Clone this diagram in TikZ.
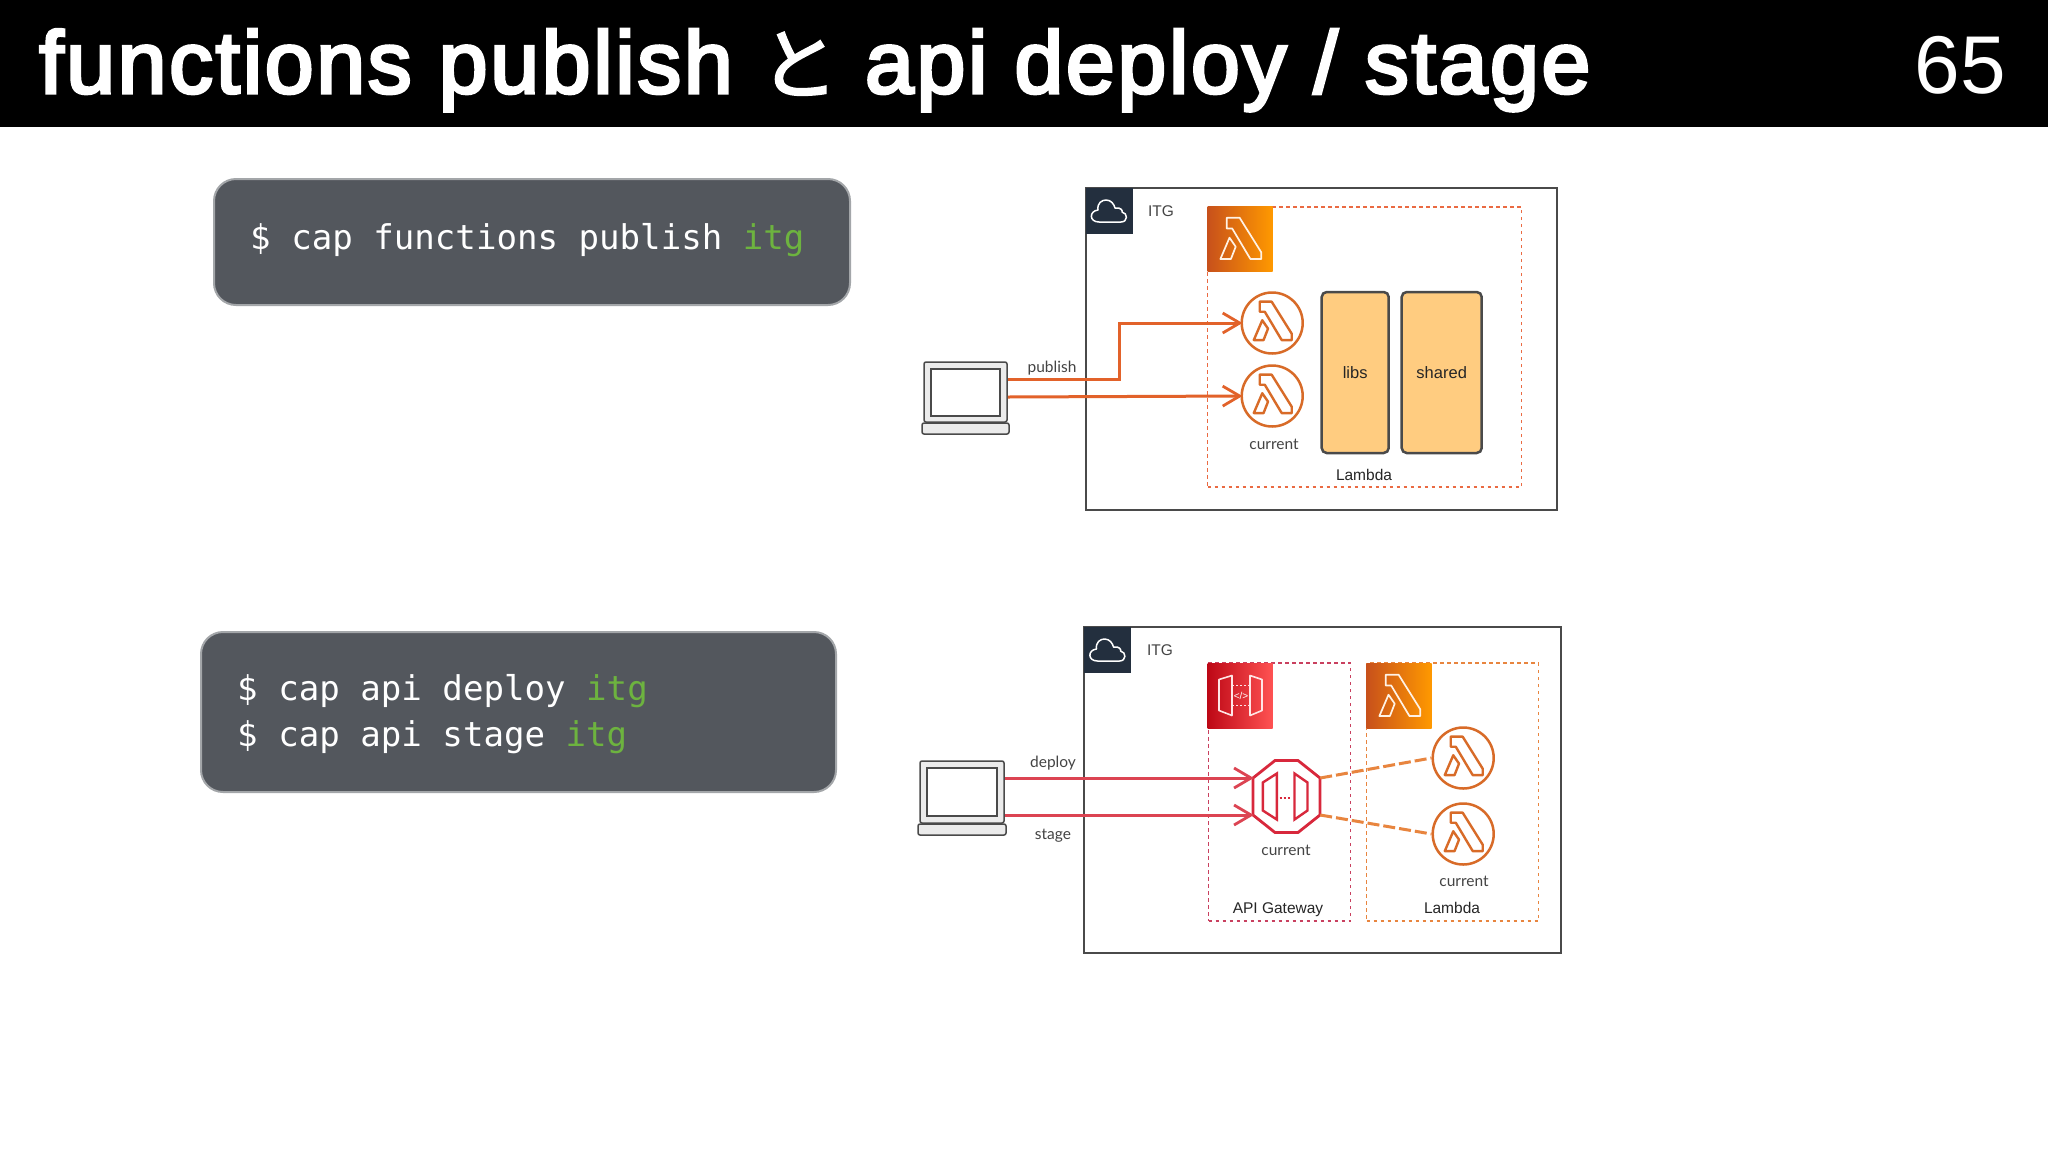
\documentclass[tikz,border=0pt]{standalone}
\usepackage{fontspec}
\usetikzlibrary{arrows.meta,calc}
\setmainfont{Liberation Sans}
\newfontfamily\titlef[FakeBold=3.5,LetterSpace=2.9]{Liberation Sans}
\newfontfamily\titlej[FakeBold=2.5]{Noto Sans CJK JP}
\newfontfamily\pagef{Liberation Sans}
\newfontfamily\monof{DejaVu Sans Mono}
\newfontfamily\smallf{Lato}
\definecolor{cmdbg}{HTML}{53575D}
\definecolor{cmdedge}{HTML}{A3A6A9}
\definecolor{cmdgreen}{HTML}{6DB33F}
\definecolor{navy}{HTML}{232F3E}
\definecolor{framec}{HTML}{4A4A4A}
\definecolor{labelc}{HTML}{444444}
\definecolor{lamL}{HTML}{C8511B}
\definecolor{lamR}{HTML}{FF9900}
\definecolor{apiL}{HTML}{BD0816}
\definecolor{apiR}{HTML}{FF5252}
\definecolor{fnc}{HTML}{D86B28}
\definecolor{arrO}{HTML}{E2622A}
\definecolor{arrR}{HTML}{DC4452}
\definecolor{dashO}{HTML}{EA6A42}
\definecolor{dashM}{HTML}{C9405F}
\definecolor{dashL}{HTML}{E8853F}
\definecolor{octc}{HTML}{D8283C}
\definecolor{libfill}{HTML}{FFCC80}
\tikzset{
  cmdbox/.style={draw=cmdedge,line width=2pt,fill=cmdbg,rounded corners=22pt,inner sep=0pt},
  cmdtext/.style={anchor=base west,inner sep=0pt,text=white,font=\monof\fontsize{34.1}{40}\selectfont},
  frame/.style={draw=framec,line width=1.6pt,fill=white,inner sep=0pt},
  navysq/.style={fill=navy,inner sep=0pt,minimum width=47pt,minimum height=46pt},
  zone/.style={line width=1.5pt,dash pattern=on 3.5pt off 3.5pt,inner sep=0pt},
  tile/.style={inner sep=0pt,minimum width=65pt,minimum height=65pt},
  fn/.style={circle,draw=fnc,line width=2.5pt,inner sep=0pt,minimum size=61pt},
  lib/.style={draw=framec,line width=2.5pt,fill=libfill,rounded corners=5pt,inner sep=0pt},
  lab/.style={inner sep=0pt,text=labelc,font=\smallf\fontsize{15.5}{18}\selectfont},
  capt/.style={inner sep=0pt,text=black!85,font=\fontsize{15.5}{18}\selectfont},
  lapo/.style={draw=framec,line width=1.5pt,fill=black!8,rounded corners=2pt,inner sep=0pt},
  lapi/.style={draw=framec,line width=1.5pt,fill=white,inner sep=0pt},
  conn/.style={line width=3pt,-{Straight Barb[length=17pt,width=20pt,line width=2.8pt]}},
  lam/.pic={
    \draw[pic actions,line join=round] (-13.4,-20.8)--(-.6,-20.8)--(21,13.7)--(21,20.5)--(10.2,20.5)--(-8,-10)--(-13.4,-10)--cycle;
    \draw[pic actions,line join=round] (-10.7,-.8)--(-19.8,20.5)--(-9.3,20.5)--(-4.5,8.2)--cycle;
  },
  cloudic/.pic={
    \draw[white,line width=1.5pt,line join=round] (-10,11) .. controls (-20,11) and (-20,0) .. (-11,-1)
      .. controls (-12,-8) and (-7,-11) .. (-3,-11) .. controls (2,-11) and (5,-7) .. (6,-3)
      .. controls (12,-4) and (14,0) .. (13,1) .. controls (19,2) and (19,11) .. (12,11) -- cycle;
  }
}
\begin{document}
\begin{tikzpicture}[x=1pt,y=-1pt]
\useasboundingbox (0,0) rectangle (2048,1152);
\fill[white] (0,0) rectangle (2048,1152);
% header
\node[fill=black,inner sep=0pt,minimum width=2048pt,minimum height=127pt,anchor=north west] (bar) at (0,0) {};
\node[anchor=base west,inner sep=0pt,text=white,font=\titlef\fontsize{88}{100}\selectfont] (title) at (39,93) {functions publish {\titlej\fontsize{78}{100}\selectfont と} api deploy / stage};
\node[anchor=base east,inner sep=0pt,text=white,font=\pagef\fontsize{82}{90}\selectfont] (page) at (2006,93) {65};
% command boxes
\node[cmdbox,minimum width=636pt,minimum height=126pt] (cmd1) at (532,242) {};
\node[cmdtext] (cmd1t) at (250,249) {\$ cap functions publish \textcolor{cmdgreen}{itg}};
\node[cmdbox,minimum width=635pt,minimum height=160pt] (cmd2) at (518.5,712) {};
\node[cmdtext] (cmd2a) at (237,700) {\$ cap api deploy \textcolor{cmdgreen}{itg}};
\node[cmdtext] (cmd2b) at (237,746) {\$ cap api stage \textcolor{cmdgreen}{itg}};

% === diagram 1 ===
\node[frame,minimum width=471pt,minimum height=322pt] (frame1) at (1321.5,349) {};
\node[navysq] (sq1) at (1109,211) {};
\pic at (sq1) {cloudic};
\node[lab,font=\fontsize{15.5}{18}\selectfont] (itg1) at (1161,211) {ITG};
\node[zone,draw=dashO,minimum width=314pt,minimum height=280pt] (zone1) at (1364.7,347) {};
\node[tile,left color=lamL,right color=lamR] (tile1) at (1240.2,238.5) {};
\pic[draw=white!90!orange,line width=1.7pt] at (tile1) {lam};
\node[fn] (fa) at (1272.2,323) {};
\pic[draw=fnc,line width=2.4pt,scale=.93] at ($(fa)+(0,-2)$) {lam};
\node[fn] (fb) at (1272.2,396) {};
\pic[draw=fnc,line width=2.4pt,scale=.93] at ($(fb)+(0,-2)$) {lam};
\node[lib,minimum width=67pt,minimum height=161pt] (libs) at (1355.2,372.5) {};
\node[lib,minimum width=80pt,minimum height=161pt] (shared) at (1441.7,372.5) {};
\node[capt,font=\fontsize{16.5}{18}\selectfont] (libst) at (libs) {libs};
\node[capt,font=\fontsize{16.5}{18}\selectfont] (sharedt) at (shared) {shared};
\node[lab] (cur1) at (1274,444) {current};
\node[capt] (lam1) at (1364,475) {Lambda};
% laptop 1
\node[lapo,minimum width=83pt,minimum height=60pt] (lap1) at (965.5,392) {};
\node[lapi,minimum width=69pt,minimum height=47pt] (lap1s) at (965.5,392.5) {};
\node[lapo,minimum width=87pt,minimum height=11pt] (lap1b) at (965.5,428.5) {};
\node[lab] (pub) at (1052,368) {publish};
\draw[conn,arrO] ($(lap1.east)+(0,-13)$) -| (1119,323) -- ($(fa.west)+(2,0)$);
\draw[conn,arrO] ($(lap1.east)+(0,5)$) -- ($(fb.west)+(2,0)$);

% === diagram 2 ===
\node[frame,minimum width=477pt,minimum height=326pt] (frame2) at (1322.5,790) {};
\node[navysq] (sq2) at (1107.5,650) {};
\pic at (sq2) {cloudic};
\node[lab,font=\fontsize{15.5}{18}\selectfont] (itg2) at (1160,650) {ITG};
\node[zone,draw=dashM,minimum width=142pt,minimum height=258pt] (zone2) at (1279.7,792) {};
\node[zone,draw=dashL,minimum width=172pt,minimum height=258pt] (zone3) at (1452.7,792) {};
\node[tile,left color=apiL,right color=apiR] (tile2) at (1240,695.5) {};
\begin{scope}[shift={(tile2)}]
  \draw[white!90!red,line width=1.6pt,line join=round] (-8,-20)--(-21,-16)--(-21,15)--(-8,20)--cycle;
  \draw[white!90!red,line width=1.6pt,line join=round] (10,-20)--(22,-16)--(22,15)--(10,20)--cycle;
  \draw[white!90!red,line width=1.4pt,dash pattern=on 2pt off 2pt] (-8,-10)--(10,-10) (-8,10)--(10,10);
\end{scope}
\node[inner sep=0pt,text=white,font=\fontsize{10}{10}\selectfont] (code) at ($(tile2)+(1,0)$) {</>};
\node[tile,left color=lamL,right color=lamR] (tile3) at (1399.2,695.5) {};
\pic[draw=white!90!orange,line width=1.7pt] at (tile3) {lam};
\node[fn] (fc) at (1463.2,758) {};
\pic[draw=fnc,line width=2.4pt,scale=.93] at ($(fc)+(0,-2)$) {lam};
\node[fn] (fd) at (1463.2,834) {};
\pic[draw=fnc,line width=2.4pt,scale=.93] at ($(fd)+(0,-2)$) {lam};
% octagon gateway
\node[inner sep=0pt,minimum width=67pt,minimum height=72pt] (oct) at (1286.5,796.5) {};
\begin{scope}[shift={(oct)}]
  \draw[octc,line width=2.8pt,line join=miter,fill=white] (-11.5,-36)--(11.5,-36)--(33.5,-18.5)--(33.5,18.5)--(11.5,36)--(-11.5,36)--(-33.5,18.5)--(-33.5,-18.5)--cycle;
  \draw[octc,line width=2.4pt] (-9.7,-23)--(-23.7,-14)--(-23.7,14)--(-9.7,23)--cycle;
  \draw[octc,line width=2.4pt] (8,-23)--(21,-14)--(21,14)--(8,23)--cycle;
  \draw[octc,line width=2pt,dash pattern=on 2.5pt off 1.5pt] (-7,1)--(5,1);
\end{scope}
\node[lab] (cur2) at (1286,850) {current};
\node[lab] (cur3) at (1464,881) {current};
\node[capt] (gw) at (1278,910) {API Gateway};
\node[capt] (lam2) at (1452,908) {Lambda};
% laptop 2
\node[lapo,minimum width=84pt,minimum height=62pt] (lap2) at (962,792) {};
\node[lapi,minimum width=70pt,minimum height=48pt] (lap2s) at (962,792) {};
\node[lapo,minimum width=88pt,minimum height=11pt] (lap2b) at (962,829.5) {};
\node[lab] (dep) at (1053,763) {deploy};
\node[lab] (stg) at (1053,836) {stage};
\draw[conn,arrR] ($(lap2.east)+(0,-14)$) -- ($(oct.west)+(1,-18.5)$);
\draw[conn,arrR] ($(lap2.east)+(0,23)$) -- ($(oct.west)+(1,18.5)$);
\draw[dashL,line width=3pt,dash pattern=on 12pt off 4pt] ($(oct.east)+(0,-18.5)$) -- (fc.west);
\draw[dashL,line width=3pt,dash pattern=on 12pt off 4pt] ($(oct.east)+(0,18.5)$) -- (fd.west);
\end{tikzpicture}
\end{document}
